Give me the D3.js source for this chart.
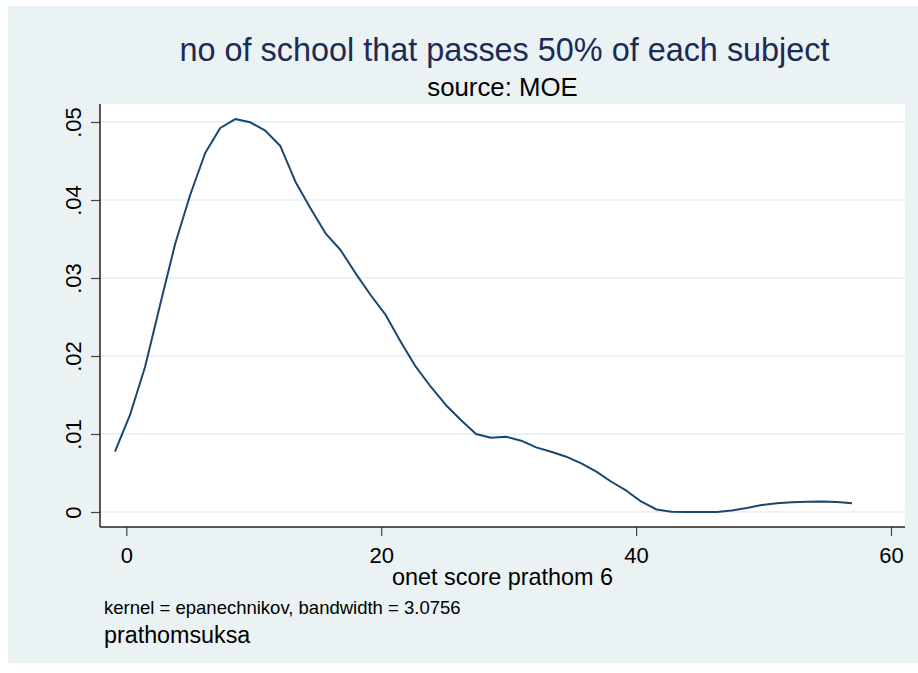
<!DOCTYPE html>
<html>
<head>
<meta charset="utf-8">
<script src="https://cdn.jsdelivr.net/npm/d3@7"></script>
<style>
  html, body { margin: 0; padding: 0; background: #ffffff; }
  svg { display: block; font-family: "Liberation Sans", Arial, sans-serif; }
</style>
</head>
<body>
<svg id="chart" width="918" height="673"></svg>
<script>
// Kernel density estimate of the onet score (evaluation points and density)
const scores = [-0.89, 0.29, 1.47, 2.65, 3.83, 5.01, 6.19, 7.37, 8.55, 9.73,
  10.91, 12.09, 13.27, 14.45, 15.63, 16.81, 17.99, 19.17, 20.35, 21.53,
  22.71, 23.89, 25.07, 26.25, 27.44, 28.62, 29.80, 30.98, 32.16, 33.34,
  34.52, 35.70, 36.88, 38.06, 39.24, 40.42, 41.60, 42.78, 43.96, 45.14,
  46.32, 47.50, 48.68, 49.86, 51.04, 52.22, 53.40, 54.58, 55.76, 56.94];
const density = [0.00773, 0.01244, 0.01859, 0.02654, 0.03436, 0.04064, 0.04603, 0.04923, 0.05038, 0.04996,
  0.04888, 0.04692, 0.04235, 0.03894, 0.03573, 0.03359, 0.03060, 0.02782, 0.02526, 0.02183,
  0.01863, 0.01606, 0.01372, 0.01179, 0.01000, 0.00953, 0.00965, 0.00914, 0.00829, 0.00773,
  0.00709, 0.00624, 0.00517, 0.00388, 0.00273, 0.00132, 0.00032, 0.00002, 0.00000, 0.00000,
  0.00000, 0.00019, 0.00051, 0.00090, 0.00112, 0.00126, 0.00133, 0.00135, 0.00128, 0.00112];

const xTicks = [0, 20, 40, 60];
const yTicks = [0, 0.01, 0.02, 0.03, 0.04, 0.05];
const yTickLabels = ["0", ".01", ".02", ".03", ".04", ".05"];

const titleText = "no of school that passes 50% of each subject";
const subtitleText = "source: MOE";
const xTitleText = "onet score prathom 6";
const noteText = "kernel = epanechnikov, bandwidth = 3.0756";
const captionText = "prathomsuksa";

const svg = d3.select("#chart");
const bg = "#eaf2f3";
const lineColor = "#1a476f";

// Outer graph region
svg.append("rect").attr("x", 8).attr("y", 6).attr("width", 910).attr("height", 657).attr("fill", bg);

// Plot region
const plot = { left: 100, right: 905, top: 104, bottom: 527 };
svg.append("rect")
  .attr("x", plot.left).attr("y", plot.top)
  .attr("width", plot.right - plot.left).attr("height", plot.bottom - plot.top)
  .attr("fill", "#ffffff");

const x = d3.scaleLinear().domain([0, 60]).range([126.3, 891]);
const y = d3.scaleLinear().domain([0, 0.05]).range([512, 122]);

// Horizontal grid lines
svg.append("g").selectAll("line").data(yTicks).join("line")
  .attr("x1", plot.left).attr("x2", plot.right)
  .attr("y1", d => y(d)).attr("y2", d => y(d))
  .attr("stroke", bg).attr("stroke-width", 2);

// Density curve
const line = d3.line().x(d => x(d[0])).y(d => y(d[1]));
svg.append("path")
  .datum(scores.map((s, i) => [s, density[i]]))
  .attr("d", line)
  .attr("fill", "none")
  .attr("stroke", lineColor)
  .attr("stroke-width", 2)
  .attr("stroke-linejoin", "round");

// Y axis
const yAxis = d3.axisLeft(y).tickValues(yTicks)
  .tickFormat((d, i) => yTickLabels[i]).tickSize(9).tickPadding(4);
const gy = svg.append("g").attr("transform", `translate(${plot.left},0)`).call(yAxis);
gy.select(".domain").remove();
gy.selectAll(".tick line").attr("stroke", "#444").attr("stroke-width", 1.2);
gy.selectAll(".tick text")
  .attr("x", null).attr("dy", null)
  .attr("transform", "translate(-19,0) rotate(-90)")
  .attr("text-anchor", "middle")
  .attr("font-size", 22)
  .attr("fill", "#000");
svg.append("line")
  .attr("x1", plot.left).attr("x2", plot.left)
  .attr("y1", plot.top).attr("y2", plot.bottom)
  .attr("stroke", "#222").attr("stroke-width", 1.5);

// X axis
const xAxis = d3.axisBottom(x).tickValues(xTicks).tickSize(9).tickPadding(6);
const gx = svg.append("g").attr("transform", `translate(0,${plot.bottom})`).call(xAxis);
gx.select(".domain").remove();
gx.selectAll(".tick line").attr("stroke", "#444").attr("stroke-width", 1.2);
gx.selectAll(".tick text")
  .attr("y", null).attr("dy", null)
  .attr("transform", "translate(0,36)")
  .attr("font-size", 22)
  .attr("fill", "#000");
svg.append("line")
  .attr("x1", plot.left).attr("x2", plot.right)
  .attr("y1", plot.bottom).attr("y2", plot.bottom)
  .attr("stroke", "#222").attr("stroke-width", 1.5);

// Titles and notes
const cx = (plot.left + plot.right) / 2;
svg.append("text").attr("x", cx + 2).attr("y", 61)
  .attr("text-anchor", "middle").attr("font-size", 32.4).attr("fill", "#1c2b55")
  .text(titleText);
svg.append("text").attr("x", cx).attr("y", 96)
  .attr("text-anchor", "middle").attr("font-size", 25.8).attr("fill", "#000")
  .text(subtitleText);
svg.append("text").attr("x", cx).attr("y", 585)
  .attr("text-anchor", "middle").attr("font-size", 23.4).attr("fill", "#000")
  .text(xTitleText);
svg.append("text").attr("x", 104).attr("y", 614)
  .attr("font-size", 18.5).attr("fill", "#000")
  .text(noteText);
svg.append("text").attr("x", 104).attr("y", 643)
  .attr("font-size", 23.3).attr("fill", "#000")
  .text(captionText);
</script>
</body>
</html>
